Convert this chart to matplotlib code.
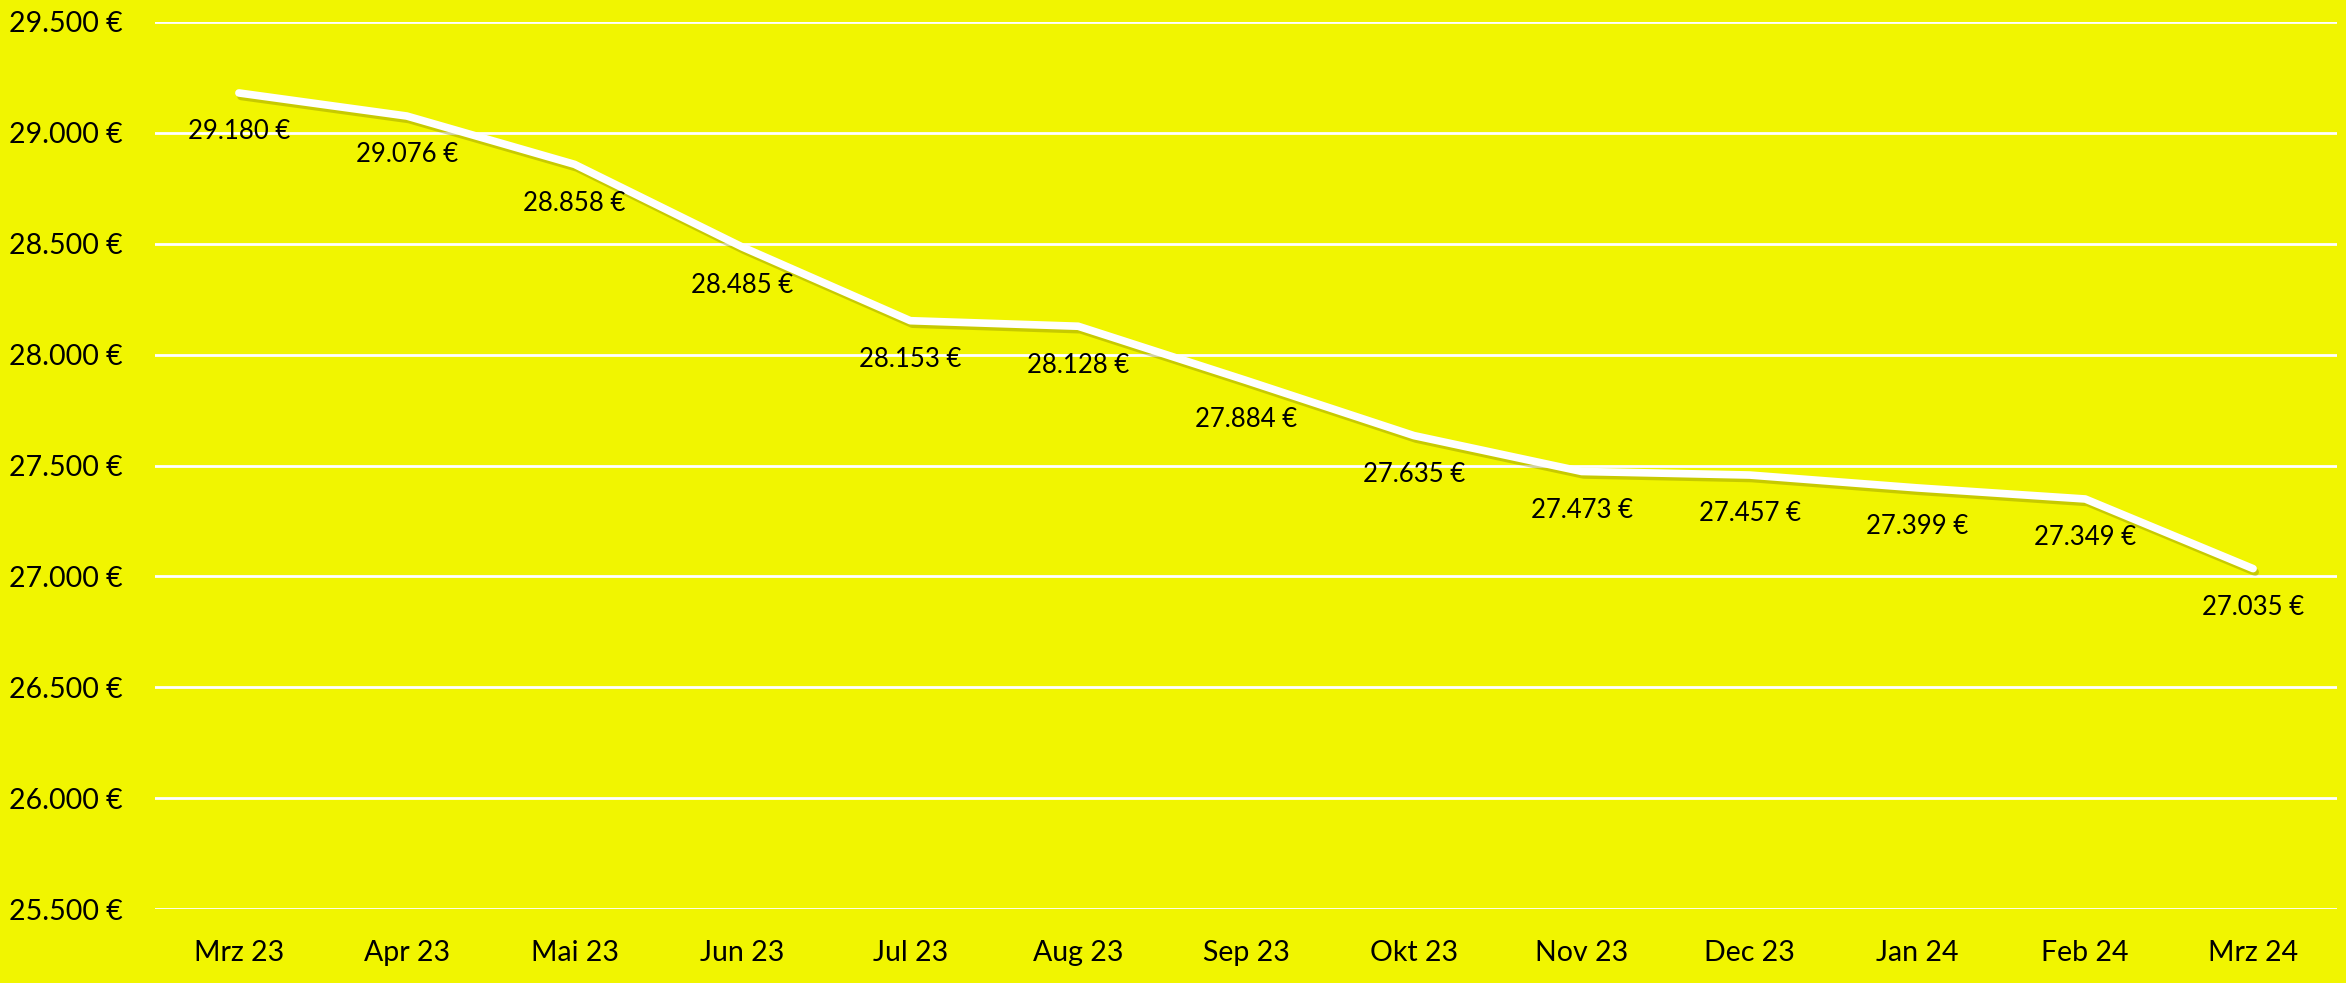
import matplotlib
matplotlib.use("Agg")
import matplotlib.pyplot as plt
import matplotlib.patheffects as pe

months = ["Mrz 23", "Apr 23", "Mai 23", "Jun 23", "Jul 23", "Aug 23", "Sep 23",
          "Okt 23", "Nov 23", "Dec 23", "Jan 24", "Feb 24", "Mrz 24"]
values = [29180, 29076, 28858, 28485, 28153, 28128, 27884,
          27635, 27473, 27457, 27399, 27349, 27035]
yticks = [25500, 26000, 26500, 27000, 27500, 28000, 28500, 29000, 29500]

bg = "#F1F500"

def eur(v):
    return f"{v:,.0f}".replace(",", ".") + " €"

plt.rcParams['font.family'] = ['Lato', 'DejaVu Sans']

fig = plt.figure(figsize=(23.46, 9.83), dpi=100, facecolor=bg)
ax = fig.add_axes([155/2346, 1 - 909/983, (2337-155)/2346, (909-22)/983])
ax.set_facecolor(bg)

x = list(range(len(months)))
ax.plot(x, values, color="white", lw=5.5, solid_capstyle="round", solid_joinstyle="round",
        zorder=3,
        path_effects=[pe.SimpleLineShadow(offset=(1.5, -2.5), shadow_color="#7a7c00", alpha=0.35),
                      pe.Normal()])

for xi, v in zip(x, values):
    ax.annotate(eur(v), (xi, v), xytext=(0, -28), textcoords="offset points",
                ha="center", va="center", fontsize=18.5, color="black", zorder=4)

ax.set_xlim(-0.5, len(months) - 0.5)
ax.set_ylim(25500, 29500)
ax.set_yticks(yticks)
ax.set_yticklabels([eur(v) for v in yticks])
ax.set_xticks(x)
ax.set_xticklabels(months)
ax.tick_params(axis="both", length=0, labelsize=20.5, colors="black")
ax.tick_params(axis="y", pad=23)
ax.tick_params(axis="x", pad=22)
ax.grid(axis="y", color="white", lw=2)
ax.set_axisbelow(True)
for s in ax.spines.values():
    s.set_visible(False)

fig.savefig("out.png", dpi=100, facecolor=bg)
